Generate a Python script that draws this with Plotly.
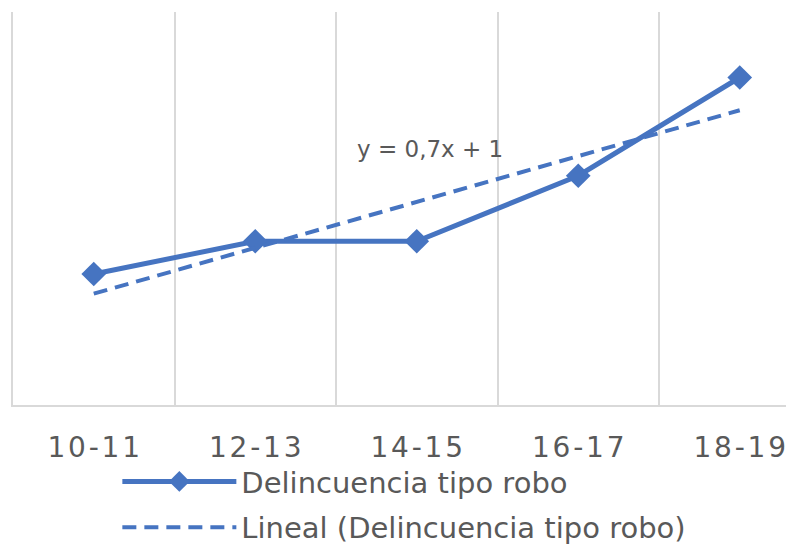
import numpy as np
import plotly.graph_objects as go

# Age brackets and robbery counts
categories = ["10-11", "12-13", "14-15", "16-17", "18-19"]
robo = [2.0, 2.5, 2.5, 3.5, 5.0]
series_name = "Delincuencia tipo robo"
trend_name = "Lineal (Delincuencia tipo robo)"

BLUE = "#4674c1"
GREY_TXT = "#595959"
GRID = "#d9d9d9"
FONT = "DejaVu Sans"

# Linear trend fitted over positions 1..n (Excel-style)
pos = np.arange(1, len(robo) + 1)
slope, intercept = np.polyfit(pos, robo, 1)
trend = slope * pos + intercept
eq_text = f"y = {slope:.1f}x + {intercept:.0f}".replace(".", ",")

# Letter-spaced tick labels
HAIR = "\u200a"
ticktext = [HAIR.join(c) for c in categories]

fig = go.Figure()
fig.add_trace(go.Scatter(
    x=categories, y=robo, name=series_name, mode="lines+markers",
    line=dict(color=BLUE, width=5),
    marker=dict(symbol="diamond", size=19, color=BLUE),
    legendgroup="a",
))
fig.add_trace(go.Scatter(
    x=categories, y=trend, name=trend_name, mode="lines",
    line=dict(color=BLUE, width=4, dash="14px,8px"),
    legendgroup="b",
))

fig.add_annotation(
    x=2.08, y=3.91, xref="x", yref="y", text=eq_text, showarrow=False,
    font=dict(family=FONT, size=23, color=GREY_TXT),
)

W, H = 786, 548
ml, mr, mt, mb = 13, 0, 12, 143
band = 161.5
span = (W - ml - mr) / band

fig.update_layout(
    width=W, height=H,
    margin=dict(l=ml, r=mr, t=mt, b=mb, autoexpand=False),
    paper_bgcolor="white", plot_bgcolor="white",
    showlegend=True,
    legend=dict(
        x=0.135, xanchor="left", y=-0.13, yanchor="top",
        orientation="v", itemwidth=114, tracegroupgap=5,
        font=dict(family=FONT, size=29, color=GREY_TXT),
        bgcolor="rgba(0,0,0,0)",
    ),
    xaxis=dict(
        type="category", categoryorder="array", categoryarray=categories,
        range=[-0.5, -0.5 + span],
        tickmode="array", tickvals=categories, ticktext=ticktext,
        tickson="boundaries", ticks="",
        showgrid=True, gridcolor=GRID, gridwidth=1.5,
        showline=True, linecolor=GRID, linewidth=2,
        tickfont=dict(family=FONT, size=28, color=GREY_TXT),
        ticklabelstandoff=16,
    ),
    yaxis=dict(
        range=[0, 6], showgrid=False, zeroline=False,
        showticklabels=False, ticks="",
        showline=True, linecolor=GRID, linewidth=1.5,
    ),
)

fig.write_html("out.html")
